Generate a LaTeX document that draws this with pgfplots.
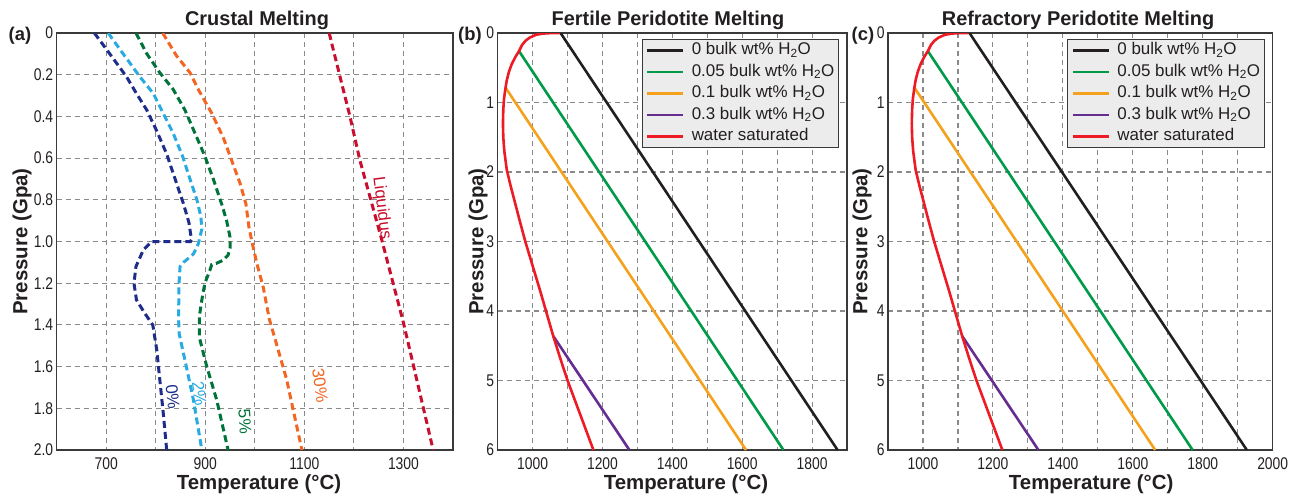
\documentclass[border=0pt]{standalone}
\usepackage{fontspec}
\setmainfont{Liberation Sans}
\setsansfont{Liberation Sans}
\newfontfamily\tickfont[FakeStretch=0.82]{Liberation Sans}
\usepackage{pgfplots}
\pgfplotsset{compat=1.18}
\definecolor{navyc}{HTML}{1F2D8A}
\definecolor{skyc}{HTML}{29ABE2}
\definecolor{dgreenc}{HTML}{00733A}
\definecolor{orangec}{HTML}{F26522}
\definecolor{crimsonc}{HTML}{C8102E}
\definecolor{blk}{HTML}{231F20}
\definecolor{grn}{HTML}{009A49}
\definecolor{org}{HTML}{F4A11D}
\definecolor{pur}{HTML}{662D91}
\definecolor{redc}{HTML}{ED1C24}
\definecolor{axgray}{HTML}{3A3A3A}
\definecolor{gridgray}{HTML}{8A8A8A}
\definecolor{legfill}{HTML}{ECECEC}
\definecolor{txt}{HTML}{231F20}
\pgfplotsset{
  every axis title/.style={at={(axis description cs:0.5,1)}, anchor=base, yshift=8bp},
  every axis x label/.style={at={(axis description cs:0.5,0)}, anchor=base, yshift=-39.3bp},
  every axis y label/.style={at={(axis description cs:-0.08,0.5)}, anchor=center, rotate=90},
  myaxis/.style={
    scale only axis, y dir=reverse, anchor=north west,
    axis line style={draw=axgray, line width=1.4bp},
    major tick length=0pt, minor tick length=0pt,
    tick style={draw=none},
    grid=both,
    major grid style={draw=gridgray, line width=1.1bp, dash pattern=on 5bp off 4bp},
    minor grid style={draw=gridgray, line width=1.1bp, dash pattern=on 5bp off 4bp},
    tick label style={font=\tickfont\fontsize{17}{17}\selectfont, text=txt},
    xticklabel style={yshift=-4.5bp},
    /pgf/number format/assume math mode=true,
    /pgf/number format/1000 sep={},
    label style={font=\bfseries\fontsize{20.5}{20.5}\selectfont, text=txt},
    title style={font=\bfseries\fontsize{20}{20}\selectfont, text=txt},
    xlabel={Temperature (°C)},
    ylabel={Pressure (Gpa)},
  },
  crust/.style={line width=3bp, dash pattern=on 7bp off 4bp},
  peri/.style={line width=2.6bp},
  peridot/.style={
    legend cell align=left,
    legend style={at={(1,1)}, anchor=north east, xshift=-8bp, yshift=-6bp,
      fill=legfill, draw=axgray, line width=1.2bp,
      font=\fontsize{17}{17}\selectfont, text=txt,
      inner xsep=4bp, inner ysep=3bp, row sep=6bp, column sep=7bp,
      nodes={inner sep=0pt, text height=12bp, text depth=3.5bp}},
    legend image code/.code={\draw[##1, line width=2.6bp] (0bp,0bp) -- (36bp,0bp);},
  },
}
\begin{document}
\begin{tikzpicture}
\path[use as bounding box] (0bp,0bp) rectangle (1297bp,-494bp);

% ---------------- (a) ----------------
\begin{axis}[myaxis, at={(56.7bp,-33bp)}, width=396.3bp, height=417bp,
  xmin=600, xmax=1400, ymin=0, ymax=2,
  xtick={700,900,1100,1300}, minor xtick={800,1000,1200},
  ytick={0,0.2,0.4,0.6,0.8,1.0,1.2,1.4,1.6,1.8,2.0},
  yticklabels={0,0.2,0.4,0.6,0.8,1.0,1.2,1.4,1.6,1.8,2.0},
  title={Crustal Melting},
  title style={at={(axis description cs:0.5056,1)}},
  xlabel style={at={(axis description cs:0.5105,0)}},
  ylabel style={at={(axis description cs:-0.0876,0.5)}},
]
\addplot[crust, navyc] coordinates {(676,0) (701,0.08) (741,0.21) (761,0.29) (782,0.37) (802,0.47) (822,0.58) (839,0.70) (856,0.82) (867,0.91) (872,0.99) (870,1.0) (792,1.0) (775,1.04) (760,1.12) (756,1.2) (761,1.28) (778,1.345) (794,1.40) (802,1.52) (808,1.66) (815,1.82) (822,2.0)};
\addplot[crust, skyc] coordinates {(704,0) (728,0.08) (768,0.21) (795,0.29) (815,0.385) (835,0.48) (854,0.59) (869,0.70) (883,0.80) (891,0.88) (893,0.94) (886,1.01) (876,1.06) (856,1.10) (849,1.12) (847,1.2) (846,1.36) (847,1.44) (859,1.57) (876,1.76) (893,2.0)};
\addplot[crust, dgreenc] coordinates {(760,0) (782,0.10) (808,0.19) (835,0.27) (859,0.37) (879,0.48) (899,0.59) (916,0.70) (933,0.82) (943,0.90) (950,0.98) (950,1.03) (946,1.065) (936,1.09) (922,1.105) (913,1.11) (909,1.14) (899,1.2) (893,1.28) (888,1.36) (888,1.46) (903,1.60) (923,1.76) (946,2.0)};
\addplot[crust, orangec] coordinates {(814,0) (842,0.11) (869,0.19) (888,0.28) (913,0.385) (936,0.50) (953,0.61) (970,0.72) (982,0.82) (988,0.93) (994,1.0) (1004,1.105) (1017,1.22) (1029,1.37) (1064,1.66) (1095,2.0)};
\addplot[crust, crimsonc] coordinates {(1150,0) (1172,0.21) (1192,0.40) (1212,0.61) (1256,0.99) (1300,1.39) (1360,2.0)};
\node[navyc, rotate=-84, font=\fontsize{17}{17}\selectfont] at (axis cs:834,1.744) {0\%};
\node[skyc, rotate=-82, font=\fontsize{17}{17}\selectfont] at (axis cs:888,1.73) {2\%};
\node[dgreenc, rotate=-86, font=\fontsize{17}{17}\selectfont] at (axis cs:980,1.864) {5\%};
\node[orangec, rotate=-82, font=\fontsize{17}{17}\selectfont] at (axis cs:1132,1.69) {30\%};
\node[crimsonc, rotate=-83, font=\fontsize{17}{17}\selectfont] at (axis cs:1256,0.84) {Liquidus};
\end{axis}

% ---------------- (b) ----------------
\begin{axis}[myaxis, peridot, at={(497.7bp,-33bp)}, width=349.3bp, height=417bp,
  xmin=900, xmax=1900, ymin=0, ymax=6,
  xtick={1000,1200,1400,1600,1800}, minor xtick={1100,1300,1500,1700},
  ytick={0,1,2,3,4,5,6},
  title={Fertile Peridotite Melting},
  title style={at={(axis description cs:0.4874,1)}},
  xlabel style={at={(axis description cs:0.539,0)}},
  ylabel style={at={(axis description cs:-0.0564,0.5)}},
]
\addplot[peri, blk] coordinates {(1080,0) (1873,6)};
\addlegendentry{0 bulk wt\% H\textsubscript{2}O}
\addplot[peri, grn] coordinates {(961,0.26) (1718,6)};
\addlegendentry{0.05 bulk wt\% H\textsubscript{2}O}
\addplot[peri, org] coordinates {(923,0.79) (1611,6)};
\addlegendentry{0.1 bulk wt\% H\textsubscript{2}O}
\addplot[peri, pur] coordinates {(1059,4.36) (1277,6)};
\addlegendentry{0.3 bulk wt\% H\textsubscript{2}O}
\addplot[peri, redc] coordinates {(1077,0) (1050,0.002) (1030,0.008) (1010,0.025) (992,0.065) (980,0.11) (970,0.17) (961,0.26) (950,0.35) (940,0.45) (932,0.56) (926,0.68) (922,0.80) (918,0.95) (916,1.10) (915,1.30) (916,1.50) (919,1.70) (926,1.97) (937,2.20) (950,2.45) (964,2.72) (979,3.00) (1000,3.35) (1021,3.70) (1040,4.03) (1059,4.36) (1079,4.68) (1100,5.0) (1137,5.50) (1174,6.0)};
\addlegendentry{water saturated}
\end{axis}

% ---------------- (c) ----------------
\begin{axis}[myaxis, peridot, at={(888bp,-33bp)}, width=384.7bp, height=417bp,
  xmin=900, xmax=2000, ymin=0, ymax=6,
  xtick={1000,1200,1400,1600,1800,2000}, minor xtick={1100,1300,1500,1700,1900},
  ytick={0,1,2,3,4,5,6},
  title={Refractory Peridotite Melting},
  title style={at={(axis description cs:0.494,1)}},
  xlabel style={at={(axis description cs:0.528,0)}},
  ylabel style={at={(axis description cs:-0.0676,0.5)}},
]
\addplot[peri, blk] coordinates {(1133,0) (1926,6)};
\addlegendentry{0 bulk wt\% H\textsubscript{2}O}
\addplot[peri, grn] coordinates {(1014,0.26) (1771,6)};
\addlegendentry{0.05 bulk wt\% H\textsubscript{2}O}
\addplot[peri, org] coordinates {(976,0.79) (1664,6)};
\addlegendentry{0.1 bulk wt\% H\textsubscript{2}O}
\addplot[peri, pur] coordinates {(1112,4.36) (1330,6)};
\addlegendentry{0.3 bulk wt\% H\textsubscript{2}O}
\addplot[peri, redc] coordinates {(1130,0) (1103,0.002) (1083,0.008) (1063,0.025) (1045,0.065) (1033,0.11) (1023,0.17) (1014,0.26) (1003,0.35) (993,0.45) (985,0.56) (979,0.68) (975,0.80) (971,0.95) (969,1.10) (968,1.30) (969,1.50) (972,1.70) (979,1.97) (990,2.20) (1003,2.45) (1017,2.72) (1032,3.00) (1053,3.35) (1074,3.70) (1093,4.03) (1112,4.36) (1132,4.68) (1153,5.0) (1190,5.50) (1227,6.0)};
\addlegendentry{water saturated}
\end{axis}

\node[anchor=base, font=\bfseries\fontsize{18.5}{18.5}\selectfont, text=txt] at (20bp,-40bp) {(a)};
\node[anchor=base, font=\bfseries\fontsize{18.5}{18.5}\selectfont, text=txt] at (470bp,-40bp) {(b)};
\node[anchor=base, font=\bfseries\fontsize{18.5}{18.5}\selectfont, text=txt] at (863bp,-40bp) {(c)};
\end{tikzpicture}
\end{document}
